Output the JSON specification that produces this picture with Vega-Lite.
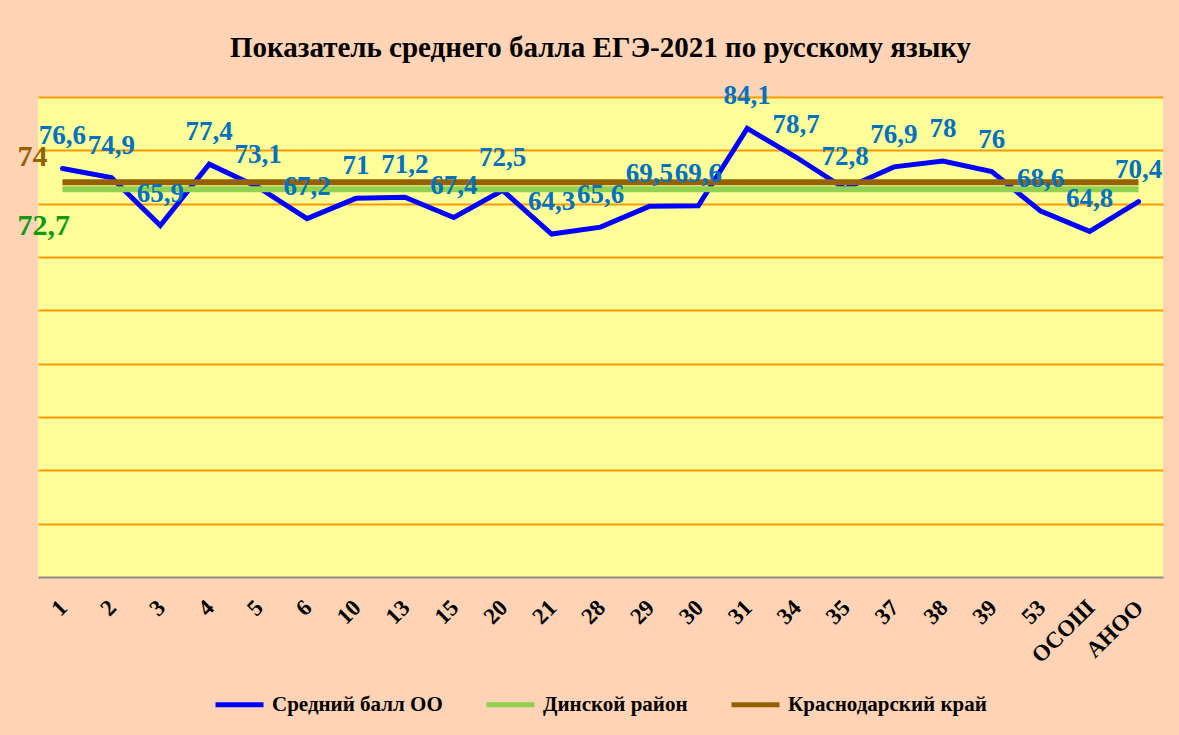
{
  "$schema": "https://vega.github.io/schema/vega-lite/v6.json",
  "autosize": {"type": "none"},
  "width": 1125,
  "height": 480,
  "padding": {"left": 38, "top": 97, "right": 16, "bottom": 158},
  "background": "#FFD3B6",
  "title": {"text": "Показатель среднего балла ЕГЭ-2021 по русскому языку", "font": "Liberation Serif", "fontSize": 29, "fontWeight": "bold", "color": "#000000", "anchor": "middle", "offset": 19},
  "data": {"values": [
    {"oo": "1", "series": "Средний балл ОО", "v": 76.6},
    {"oo": "2", "series": "Средний балл ОО", "v": 74.9},
    {"oo": "3", "series": "Средний балл ОО", "v": 65.9},
    {"oo": "4", "series": "Средний балл ОО", "v": 77.4},
    {"oo": "5", "series": "Средний балл ОО", "v": 73.1},
    {"oo": "6", "series": "Средний балл ОО", "v": 67.2},
    {"oo": "10", "series": "Средний балл ОО", "v": 71},
    {"oo": "13", "series": "Средний балл ОО", "v": 71.2},
    {"oo": "15", "series": "Средний балл ОО", "v": 67.4},
    {"oo": "20", "series": "Средний балл ОО", "v": 72.5},
    {"oo": "21", "series": "Средний балл ОО", "v": 64.3},
    {"oo": "28", "series": "Средний балл ОО", "v": 65.6},
    {"oo": "29", "series": "Средний балл ОО", "v": 69.5},
    {"oo": "30", "series": "Средний балл ОО", "v": 69.6},
    {"oo": "31", "series": "Средний балл ОО", "v": 84.1},
    {"oo": "34", "series": "Средний балл ОО", "v": 78.7},
    {"oo": "35", "series": "Средний балл ОО", "v": 72.8},
    {"oo": "37", "series": "Средний балл ОО", "v": 76.9},
    {"oo": "38", "series": "Средний балл ОО", "v": 78},
    {"oo": "39", "series": "Средний балл ОО", "v": 76},
    {"oo": "53", "series": "Средний балл ОО", "v": 68.6},
    {"oo": "ОСОШ", "series": "Средний балл ОО", "v": 64.8},
    {"oo": "АНОО", "series": "Средний балл ОО", "v": 70.4},
    {"oo": "1", "series": "Динской район", "v": 72.7},
    {"oo": "2", "series": "Динской район", "v": 72.7},
    {"oo": "3", "series": "Динской район", "v": 72.7},
    {"oo": "4", "series": "Динской район", "v": 72.7},
    {"oo": "5", "series": "Динской район", "v": 72.7},
    {"oo": "6", "series": "Динской район", "v": 72.7},
    {"oo": "10", "series": "Динской район", "v": 72.7},
    {"oo": "13", "series": "Динской район", "v": 72.7},
    {"oo": "15", "series": "Динской район", "v": 72.7},
    {"oo": "20", "series": "Динской район", "v": 72.7},
    {"oo": "21", "series": "Динской район", "v": 72.7},
    {"oo": "28", "series": "Динской район", "v": 72.7},
    {"oo": "29", "series": "Динской район", "v": 72.7},
    {"oo": "30", "series": "Динской район", "v": 72.7},
    {"oo": "31", "series": "Динской район", "v": 72.7},
    {"oo": "34", "series": "Динской район", "v": 72.7},
    {"oo": "35", "series": "Динской район", "v": 72.7},
    {"oo": "37", "series": "Динской район", "v": 72.7},
    {"oo": "38", "series": "Динской район", "v": 72.7},
    {"oo": "39", "series": "Динской район", "v": 72.7},
    {"oo": "53", "series": "Динской район", "v": 72.7},
    {"oo": "ОСОШ", "series": "Динской район", "v": 72.7},
    {"oo": "АНОО", "series": "Динской район", "v": 72.7},
    {"oo": "1", "series": "Краснодарский край", "v": 74},
    {"oo": "2", "series": "Краснодарский край", "v": 74},
    {"oo": "3", "series": "Краснодарский край", "v": 74},
    {"oo": "4", "series": "Краснодарский край", "v": 74},
    {"oo": "5", "series": "Краснодарский край", "v": 74},
    {"oo": "6", "series": "Краснодарский край", "v": 74},
    {"oo": "10", "series": "Краснодарский край", "v": 74},
    {"oo": "13", "series": "Краснодарский край", "v": 74},
    {"oo": "15", "series": "Краснодарский край", "v": 74},
    {"oo": "20", "series": "Краснодарский край", "v": 74},
    {"oo": "21", "series": "Краснодарский край", "v": 74},
    {"oo": "28", "series": "Краснодарский край", "v": 74},
    {"oo": "29", "series": "Краснодарский край", "v": 74},
    {"oo": "30", "series": "Краснодарский край", "v": 74},
    {"oo": "31", "series": "Краснодарский край", "v": 74},
    {"oo": "34", "series": "Краснодарский край", "v": 74},
    {"oo": "35", "series": "Краснодарский край", "v": 74},
    {"oo": "37", "series": "Краснодарский край", "v": 74},
    {"oo": "38", "series": "Краснодарский край", "v": 74},
    {"oo": "39", "series": "Краснодарский край", "v": 74},
    {"oo": "53", "series": "Краснодарский край", "v": 74},
    {"oo": "ОСОШ", "series": "Краснодарский край", "v": 74},
    {"oo": "АНОО", "series": "Краснодарский край", "v": 74}
  ]},
  "encoding": {
    "x": {"field": "oo", "type": "nominal", "sort": null,
      "scale": {"type": "point", "padding": 0.5, "domain": ["1","2","3","4","5","6","10","13","15","20","21","28","29","30","31","34","35","37","38","39","53","ОСОШ","АНОО"]},
      "axis": {"title": null, "labelAngle": -45, "labelFont": "Liberation Serif", "labelFontWeight": "bold", "labelFontSize": 23, "labelColor": "#000000", "ticks": false, "labelPadding": 19, "labelOffset": -7, "domainColor": "#8c8c8c", "domainWidth": 2, "grid": false}},
    "y": {"field": "v", "type": "quantitative", "scale": {"domain": [0, 90], "nice": false, "zero": true},
      "axis": {"title": null, "labels": false, "ticks": false, "domain": false, "grid": true, "values": [10, 20, 30, 40, 50, 60, 70, 80, 90], "gridColor": "#FF9900", "gridWidth": 2, "gridOpacity": 1}}
  },
  "layer": [
    {
      "transform": [{"filter": "datum.series === 'Средний балл ОО'"}],
      "mark": {"type": "line", "strokeWidth": 5, "strokeCap": "round"},
      "encoding": {
        "color": {"field": "series", "type": "nominal",
          "scale": {"domain": ["Средний балл ОО", "Динской район", "Краснодарский край"], "range": ["#0000FF", "#92D050", "#946200"]},
          "legend": {"orient": "none", "legendX": 175, "legendY": 581, "direction": "horizontal", "title": null, "symbolType": "stroke", "symbolSize": 2304, "symbolStrokeWidth": 5, "labelFont": "Liberation Serif", "labelFontWeight": "bold", "labelFontSize": 21, "labelColor": "#000000", "labelLimit": 400, "columnPadding": 33, "labelOffset": 6}}
      }
    },
    {
      "transform": [{"filter": "datum.series === 'Динской район'"}],
      "mark": {"type": "line", "strokeWidth": 6},
      "encoding": {"color": {"field": "series", "type": "nominal"}}
    },
    {
      "transform": [{"filter": "datum.series === 'Краснодарский край'"}],
      "mark": {"type": "line", "strokeWidth": 6},
      "encoding": {"color": {"field": "series", "type": "nominal"}}
    },
    {
      "transform": [{"filter": "datum.series === 'Средний балл ОО'"}],
      "mark": {"type": "text", "font": "Liberation Serif", "fontWeight": "bold", "fontSize": 27, "color": "#0070C0", "baseline": "alphabetic", "align": "center", "dy": -24},
      "encoding": {"text": {"field": "v", "type": "quantitative", "format": "~g"}}
    },
    {
      "transform": [{"filter": "datum.series === 'Динской район' && datum.oo === '1'"}],
      "mark": {"type": "text", "font": "Liberation Serif", "fontWeight": "bold", "fontSize": 30, "color": "#109A10", "baseline": "alphabetic", "align": "left", "dx": -45, "dy": 46},
      "encoding": {"text": {"field": "v", "type": "quantitative", "format": "~g"}}
    },
    {
      "transform": [{"filter": "datum.series === 'Краснодарский край' && datum.oo === '1'"}],
      "mark": {"type": "text", "font": "Liberation Serif", "fontWeight": "bold", "fontSize": 30, "color": "#946200", "baseline": "alphabetic", "align": "left", "dx": -45, "dy": -16},
      "encoding": {"text": {"field": "v", "type": "quantitative", "format": "~g"}}
    }
  ],
  "config": {
    "view": {"fill": "#FFFF99", "stroke": null},
    "locale": {"number": {"decimal": ",", "thousands": " ", "grouping": [3], "currency": ["", ""]}}
  }
}
